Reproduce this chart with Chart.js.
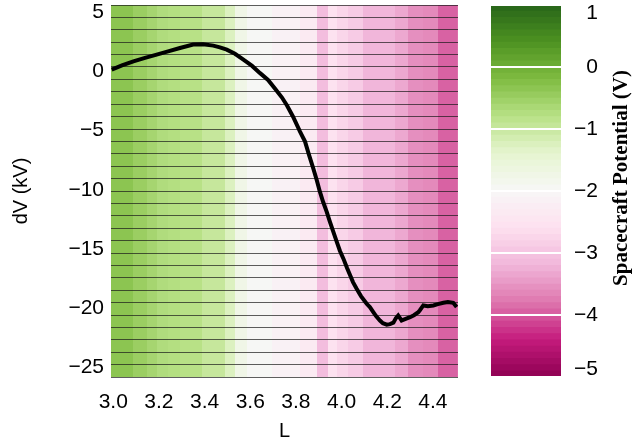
<!DOCTYPE html>
<html>
<head>
<meta charset="utf-8">
<script src="https://cdn.jsdelivr.net/npm/chart.js@4.4.1/dist/chart.umd.min.js"></script>
<style>
  html, body { margin: 0; padding: 0; background: #fff; }
  #wrap { position: relative; width: 641px; height: 440px; overflow: hidden; }
  #main { position: absolute; left: 0; top: 0; }
  #cbar { position: absolute; left: 470px; top: 0; }
</style>
</head>
<body>
<div id="wrap">
  <canvas id="main" width="641" height="440"></canvas>
  <canvas id="cbar" width="171" height="440"></canvas>
</div>
<script>
// Potential drop dV (kV) along the field-line shell L
const shellL = [2.993, 3.038, 3.088, 3.139, 3.190, 3.240, 3.292, 3.350, 3.393, 3.438,
  3.467, 3.497, 3.533, 3.570, 3.608, 3.643, 3.678, 3.708, 3.739, 3.761,
  3.787, 3.818, 3.840, 3.857, 3.876, 3.892, 3.905, 3.919, 3.935, 3.949,
  3.964, 3.979, 3.993, 4.008, 4.024, 4.037, 4.050, 4.066, 4.085, 4.110,
  4.124, 4.139, 4.151, 4.168, 4.181, 4.198, 4.212, 4.227, 4.238, 4.248,
  4.256, 4.263, 4.278, 4.300, 4.317, 4.336, 4.343, 4.358, 4.378, 4.402,
  4.422, 4.446, 4.466, 4.489, 4.504];
const dV = [0.14, 0.50, 0.84, 1.14, 1.41, 1.69, 1.97, 2.26, 2.28, 2.17,
  2.03, 1.83, 1.48, 0.99, 0.46, -0.15, -0.72, -1.44, -2.21, -2.88,
  -3.81, -5.08, -5.93, -7.03, -8.19, -9.23, -10.16, -11.01, -11.86, -12.70,
  -13.55, -14.40, -15.16, -15.81, -16.60, -17.19, -17.79, -18.35, -18.97, -19.62,
  -19.90, -20.32, -20.66, -21.03, -21.26, -21.38, -21.34, -21.21, -20.83, -20.61,
  -20.83, -21.03, -20.92, -20.75, -20.58, -20.33, -20.16, -19.76, -19.82, -19.76,
  -19.65, -19.54, -19.48, -19.54, -19.90];

// Spacecraft potential (V) in L bins: bin edges and bin values
const bandEdges = [2.99, 3.088, 3.146, 3.190, 3.241, 3.292, 3.387, 3.489, 3.533, 3.584,
  3.694, 3.818, 3.891, 3.940, 3.980, 4.026, 4.094, 4.234, 4.292, 4.358,
  4.424, 4.504, 4.51];
const bandPotential = [-0.34, -0.49, -0.61, -0.72, -0.76, -0.80, -0.98, -1.27, -1.76, -1.97,
  -2.15, -2.35, -3.10, -2.55, -2.75, -2.90, -3.20, -3.33, -3.57, -3.62,
  -3.94, -3.85];

// Tick labels
const xTicks = [3.0, 3.2, 3.4, 3.6, 3.8, 4.0, 4.2, 4.4];
const yTicks = [-25, -20, -15, -10, -5, 0, 5];
const cbTicks = [-5, -4, -3, -2, -1, 0, 1];
const rowCount = 30;

// Diverging pink / yellow-green colour table over the potential range
const PIYG = ['#8e0152', '#c51b7d', '#de77ae', '#f1b6da', '#fde0ef', '#f7f7f7',
  '#e6f5d0', '#b8e186', '#7fbc41', '#4d9221', '#276419'];
const CB_MIN = -5, CB_MAX = 1;
function hexRgb(h) { return [1, 3, 5].map(i => parseInt(h.substr(i, 2), 16)); }
function potentialColor(v) {
  const t = Math.min(Math.max((v - CB_MIN) / (CB_MAX - CB_MIN), 0), 1) * (PIYG.length - 1);
  const i = Math.min(Math.floor(t), PIYG.length - 2);
  const f = t - i;
  const a = hexRgb(PIYG[i]), b = hexRgb(PIYG[i + 1]);
  const c = a.map((x, k) => Math.round(x + (b[k] - x) * f));
  return `rgb(${c[0]},${c[1]},${c[2]})`;
}
const minus = v => (v < 0 ? '\u2212' + Math.abs(v) : String(v));

const SANS = "'Liberation Sans', Arial, sans-serif";
const tickFont = { family: SANS, size: 21 };

// keep axes from reserving extra room for overhanging edge labels
function noOverhang(s) { s.paddingTop = 0; s.paddingBottom = 0; s.paddingLeft = 0; s.paddingRight = 0; }

// Potential bins painted behind the curve
const bandPlugin = {
  id: 'potentialBands',
  beforeDraw(chart) {
    const { ctx, chartArea: a, scales: { x } } = chart;
    ctx.save();
    for (let i = 0; i < bandPotential.length; i++) {
      const x0 = Math.round(x.getPixelForValue(bandEdges[i]));
      const x1 = Math.round(x.getPixelForValue(bandEdges[i + 1]));
      ctx.fillStyle = potentialColor(bandPotential[i]);
      ctx.fillRect(x0, a.top, x1 - x0, a.bottom - a.top);
    }
    ctx.restore();
  }
};

new Chart(document.getElementById('main'), {
  type: 'line',
  data: {
    datasets: [{
      data: shellL.map((l, i) => ({ x: l, y: dV[i] })),
      borderColor: '#000',
      borderWidth: 4,
      pointRadius: 0,
      tension: 0,
      fill: false
    }]
  },
  options: {
    responsive: false,
    devicePixelRatio: 1,
    animation: false,
    layout: { padding: { top: 5, right: 183, bottom: 0, left: 0 } },
    plugins: { legend: { display: false }, tooltip: { enabled: false } },
    scales: {
      x: {
        type: 'linear', min: 2.99, max: 4.51,
        afterBuildTicks: s => { s.ticks = xTicks.map(v => ({ value: v })); },
        afterFit: s => { s.height = 63; noOverhang(s); },
        grid: { display: false, drawTicks: false },
        border: { display: false },
        ticks: { padding: 13, color: '#000', font: tickFont, maxRotation: 0, autoSkip: false,
                 callback: v => Number(v).toFixed(1) },
        title: { display: true, text: 'L', color: '#000', font: { family: SANS, size: 20 },
                 padding: { top: 0, bottom: -3 } }
      },
      y: {
        type: 'linear', position: 'left', min: -25.8, max: 5.6,
        afterBuildTicks: s => { s.ticks = yTicks.map(v => ({ value: v })); },
        afterFit: s => { s.width = 111; noOverhang(s); },
        grid: { display: false, drawTicks: false },
        border: { display: false },
        ticks: { padding: 7, color: '#000', font: tickFont, autoSkip: false, callback: v => minus(v) },
        title: { display: true, text: 'dV (kV)', color: '#000', font: { family: SANS, size: 20 },
                 padding: { top: 9, bottom: 0 } }
      },
      rows: {
        type: 'linear', position: 'left', min: 0, max: rowCount,
        afterFit: s => { s.width = 0; noOverhang(s); },
        ticks: { display: false, stepSize: 1 },
        grid: { color: 'rgba(25,25,25,0.7)', lineWidth: 1, drawTicks: false },
        border: { display: false }
      }
    }
  },
  plugins: [bandPlugin]
});

// Colour bar: one floating bar per 0.1 V level
const cbLevels = [];
for (let k = 0; k < 60; k++) cbLevels.push(CB_MIN + k * 0.1);
const titlePlugin = {
  id: 'cbTitle',
  afterDraw(chart) {
    const { ctx } = chart;
    ctx.save();
    ctx.translate(152, 178);
    ctx.rotate(-Math.PI / 2);
    ctx.fillStyle = '#000';
    ctx.font = "bold 21px 'Liberation Serif', 'Times New Roman', serif";
    ctx.textAlign = 'center';
    ctx.textBaseline = 'middle';
    ctx.fillText('Spacecraft Potential (V)', 0, 0);
    ctx.restore();
  }
};
new Chart(document.getElementById('cbar'), {
  type: 'bar',
  data: {
    labels: [''],
    datasets: cbLevels.map(lo => ({
      data: [[lo, lo + 0.1]],
      backgroundColor: potentialColor(lo + 0.05),
      borderWidth: 0,
      barPercentage: 1,
      categoryPercentage: 1,
      grouped: false
    }))
  },
  options: {
    responsive: false,
    devicePixelRatio: 1,
    animation: false,
    layout: { padding: { top: 5, right: 43, bottom: 63, left: 21 } },
    plugins: { legend: { display: false }, tooltip: { enabled: false } },
    scales: {
      x: { display: false },
      y: {
        position: 'right', min: CB_MIN, max: CB_MAX,
        afterBuildTicks: s => {
          s.ticks = cbTicks.map(v => ({ value: Math.min(Math.max(v, CB_MIN + 0.13), CB_MAX - 0.13) }));
        },
        afterFit: s => { s.width = 37; noOverhang(s); },
        grid: { display: false, drawTicks: false },
        border: { display: false },
        ticks: { crossAlign: 'far', padding: 0, color: '#000', font: tickFont, autoSkip: false,
                 callback: v => minus(Math.round(v)) }
      },
      sep: {
        position: 'left', min: CB_MIN, max: CB_MAX,
        afterFit: s => { s.width = 0; noOverhang(s); },
        ticks: { display: false, stepSize: 1 },
        grid: { color: '#fff', lineWidth: 2, drawTicks: false, z: 1 },
        border: { display: false }
      }
    }
  },
  plugins: [titlePlugin]
});
</script>
</body>
</html>
